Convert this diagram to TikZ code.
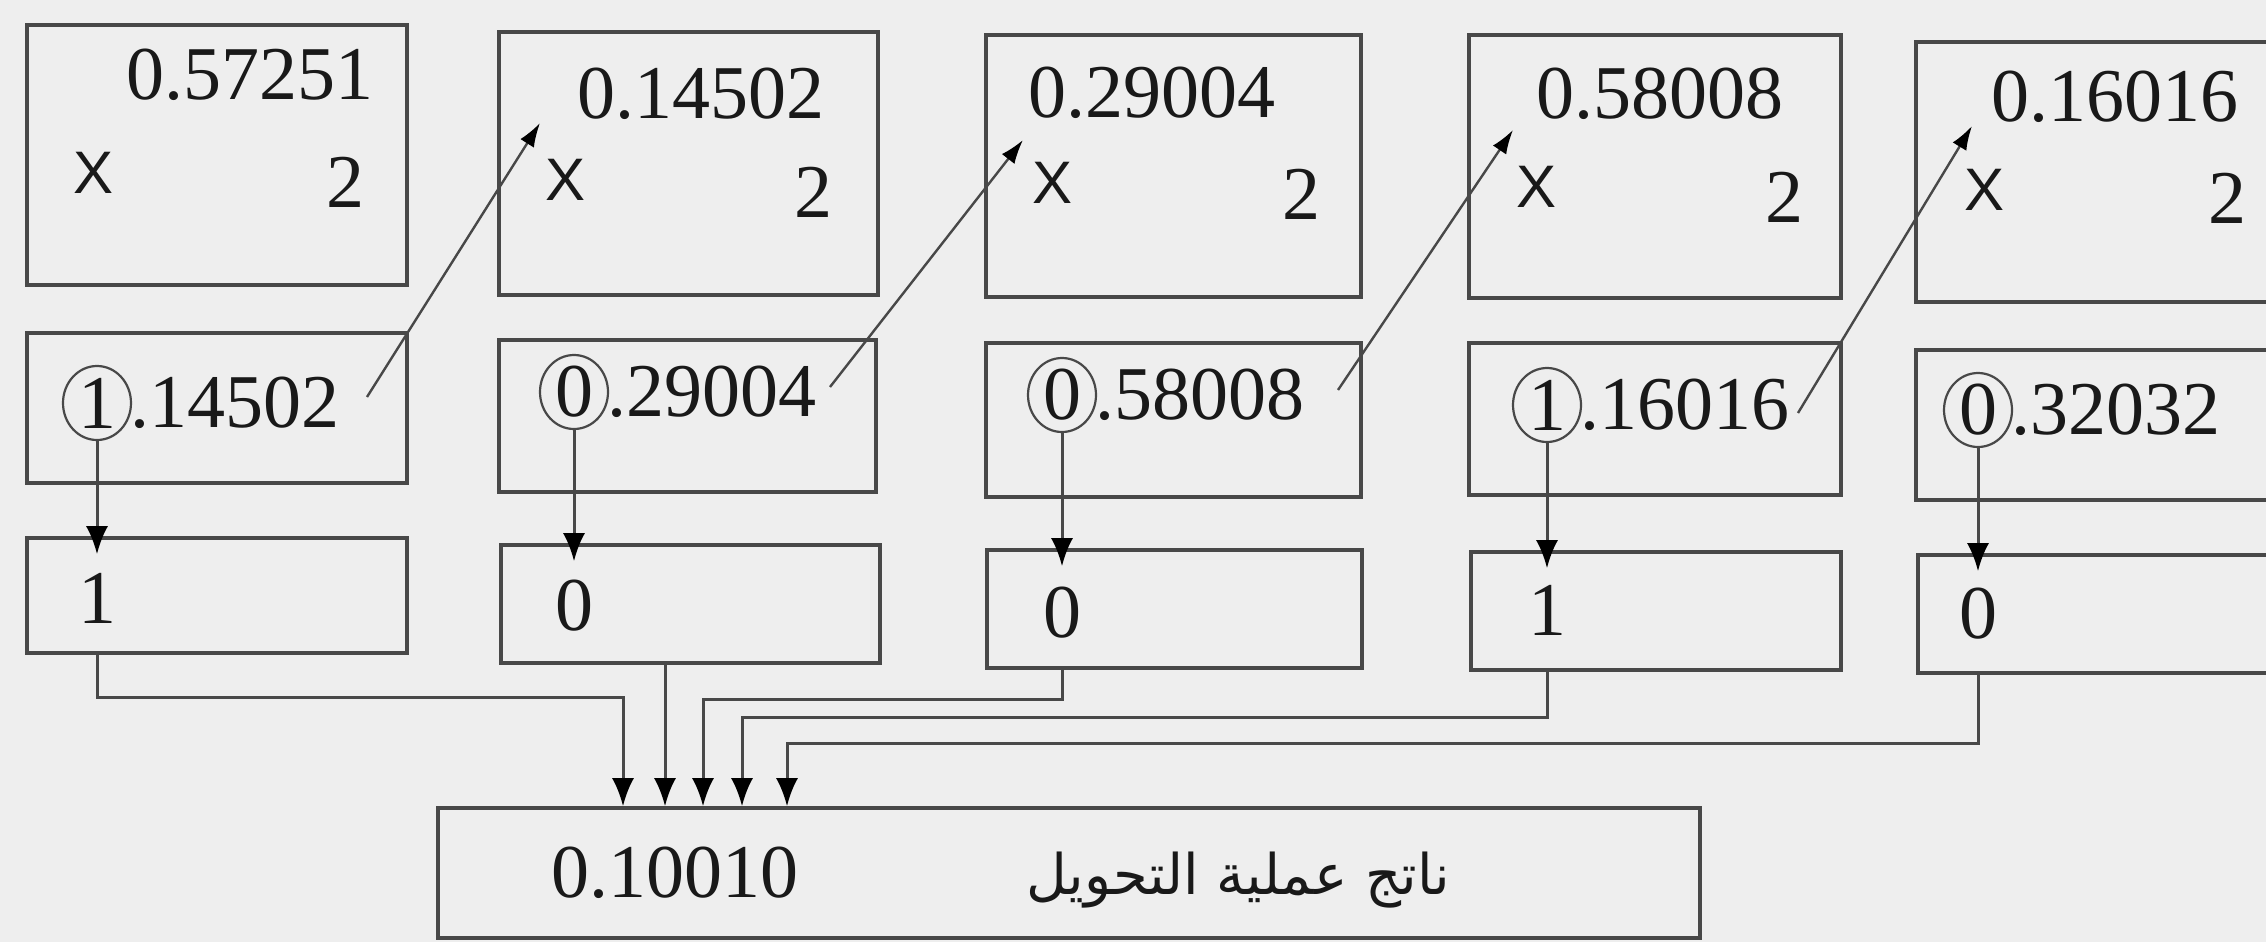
\documentclass[tikz,border=0pt]{standalone}
\usepackage{fontspec}
\setmainfont{Liberation Serif}
\newfontfamily\arabicfont[Script=Arabic]{DejaVu Sans}
\newfontfamily\xfont{Liberation Sans}
\TeXXeTstate=1
\usetikzlibrary{arrows.meta,shapes.geometric,fit}
\definecolor{bg}{RGB}{238,238,238}
\definecolor{edge}{RGB}{72,72,72}
\definecolor{ink}{RGB}{25,25,25}
\begin{document}
\begin{tikzpicture}[x=0.5pt,y=-0.5pt,
  cell/.style={draw=edge,line width=1.8pt,inner sep=0pt},
  num/.style={font=\fontsize{38}{40}\selectfont,text=ink,inner sep=0pt},
  xs/.style={font=\xfont\fontsize{30}{32}\selectfont,text=ink,inner sep=0pt},
  ring/.style={ellipse,draw=edge,line width=1.1pt,minimum width=34pt,minimum height=37pt,inner sep=0pt,font=\fontsize{38}{40}\selectfont,text=ink},
  arr/.style={draw=edge,line width=1.5pt,-{Latex[length=14pt,width=11pt,color=black]}},
  diag/.style={draw=edge,line width=1.2pt,-{Latex[length=12pt,width=8pt,color=black]}},
]
\fill[bg] (0,0) rectangle (2266,942);
\clip (0,0) rectangle (2266,942);
% row 1
\node[cell,fit={(27,25)(407,285)}] (a1) {};
\node[cell,fit={(499,32)(878,295)}] (a2) {};
\node[cell,fit={(986,35)(1361,297)}] (a3) {};
\node[cell,fit={(1469,35)(1841,298)}] (a4) {};
\node[cell,fit={(1916,42)(2300,302)}] (a5) {};
% row 2
\node[cell,fit={(27,333)(407,483)}] (b1) {};
\node[cell,fit={(499,340)(876,492)}] (b2) {};
\node[cell,fit={(986,343)(1361,497)}] (b3) {};
\node[cell,fit={(1469,343)(1841,495)}] (b4) {};
\node[cell,fit={(1916,350)(2300,500)}] (b5) {};
% row 3
\node[cell,fit={(27,538)(407,653)}] (c1) {};
\node[cell,fit={(501,545)(880,663)}] (c2) {};
\node[cell,fit={(987,550)(1362,668)}] (c3) {};
\node[cell,fit={(1471,552)(1841,670)}] (c4) {};
\node[cell,fit={(1918,555)(2300,673)}] (c5) {};
% result
\node[cell,fit={(438,808)(1700,938)}] (r) {};
% row 1 texts
\node[num] (v1) at (250,75) {0.57251};
\node[xs] (x1) at (94,173) {X};
\node[num] (w1) at (345,182) {2};
\node[num] (v2) at (701,94) {0.14502};
\node[xs] (x2) at (566,180) {X};
\node[num] (w2) at (813,192) {2};
\node[num] (v3) at (1152,93) {0.29004};
\node[xs] (x3) at (1052,183) {X};
\node[num] (w3) at (1301,194) {2};
\node[num] (v4) at (1660,94) {0.58008};
\node[xs] (x4) at (1536,187) {X};
\node[num] (w4) at (1784,197) {2};
\node[num] (v5) at (2115,97) {0.16016};
\node[xs] (x5) at (1984,190) {X};
\node[num] (w5) at (2227,198) {2};
% row 2 texts
\node[ring] (o1) at (97,403) {1};
\node[num,anchor=west] (t1) at ([xshift=-1pt]o1.east) {.14502};
\node[ring] (o2) at (574,392) {0};
\node[num,anchor=west] (t2) at ([xshift=-1pt]o2.east) {.29004};
\node[ring] (o3) at (1062,395) {0};
\node[num,anchor=west] (t3) at ([xshift=-1pt]o3.east) {.58008};
\node[ring] (o4) at (1547,405) {1};
\node[num,anchor=west] (t4) at ([xshift=-1pt]o4.east) {.16016};
\node[ring] (o5) at (1978,410) {0};
\node[num,anchor=west] (t5) at ([xshift=-1pt]o5.east) {.32032};
% row 3 digits
\node[num] (d1) at (97,598) {1};
\node[num] (d2) at (574,606) {0};
\node[num] (d3) at (1062,613) {0};
\node[num] (d4) at (1547,610) {1};
\node[num] (d5) at (1978,614) {0};
% vertical arrows
\foreach \i in {1,...,5} {
  \draw[arr,shorten >=-9pt] (o\i) -- (o\i |- c\i.north);
}
% diagonal arrows
\coordinate (s1) at (367,397); \coordinate (e1) at (540,123);
\coordinate (s2) at (830,387); \coordinate (e2) at (1023,140);
\coordinate (s3) at (1338,390); \coordinate (e3) at (1513,130);
\coordinate (s4) at (1798,413); \coordinate (e4) at (1972,126);
\foreach \i in {1,...,4} { \draw[diag] (s\i) -- (e\i); }
% routes to the result
\coordinate (k1) at (623,697);
\coordinate (k2) at (665,663);
\coordinate (k3) at (703,699);
\coordinate (k4) at (742,717);
\coordinate (k5) at (787,743);
\draw[arr] (d1 |- c1.south) |- (k1) -- (k1 |- r.north);
\draw[arr] (k2 |- c2.south) -- (k2 |- r.north);
\draw[arr] (d3 |- c3.south) |- (k3) -- (k3 |- r.north);
\draw[arr] (d4 |- c4.south) |- (k4) -- (k4 |- r.north);
\draw[arr] (d5 |- c5.south) |- (k5) -- (k5 |- r.north);
% result texts
\node[num] (res) at (675,873) {0.10010};
\node[font=\arabicfont\fontsize{28}{30}\selectfont,text=ink,inner sep=0pt] (lbl) at (1238,880) {\beginR ناتج عملية التحويل\endR};
\end{tikzpicture}
\end{document}
